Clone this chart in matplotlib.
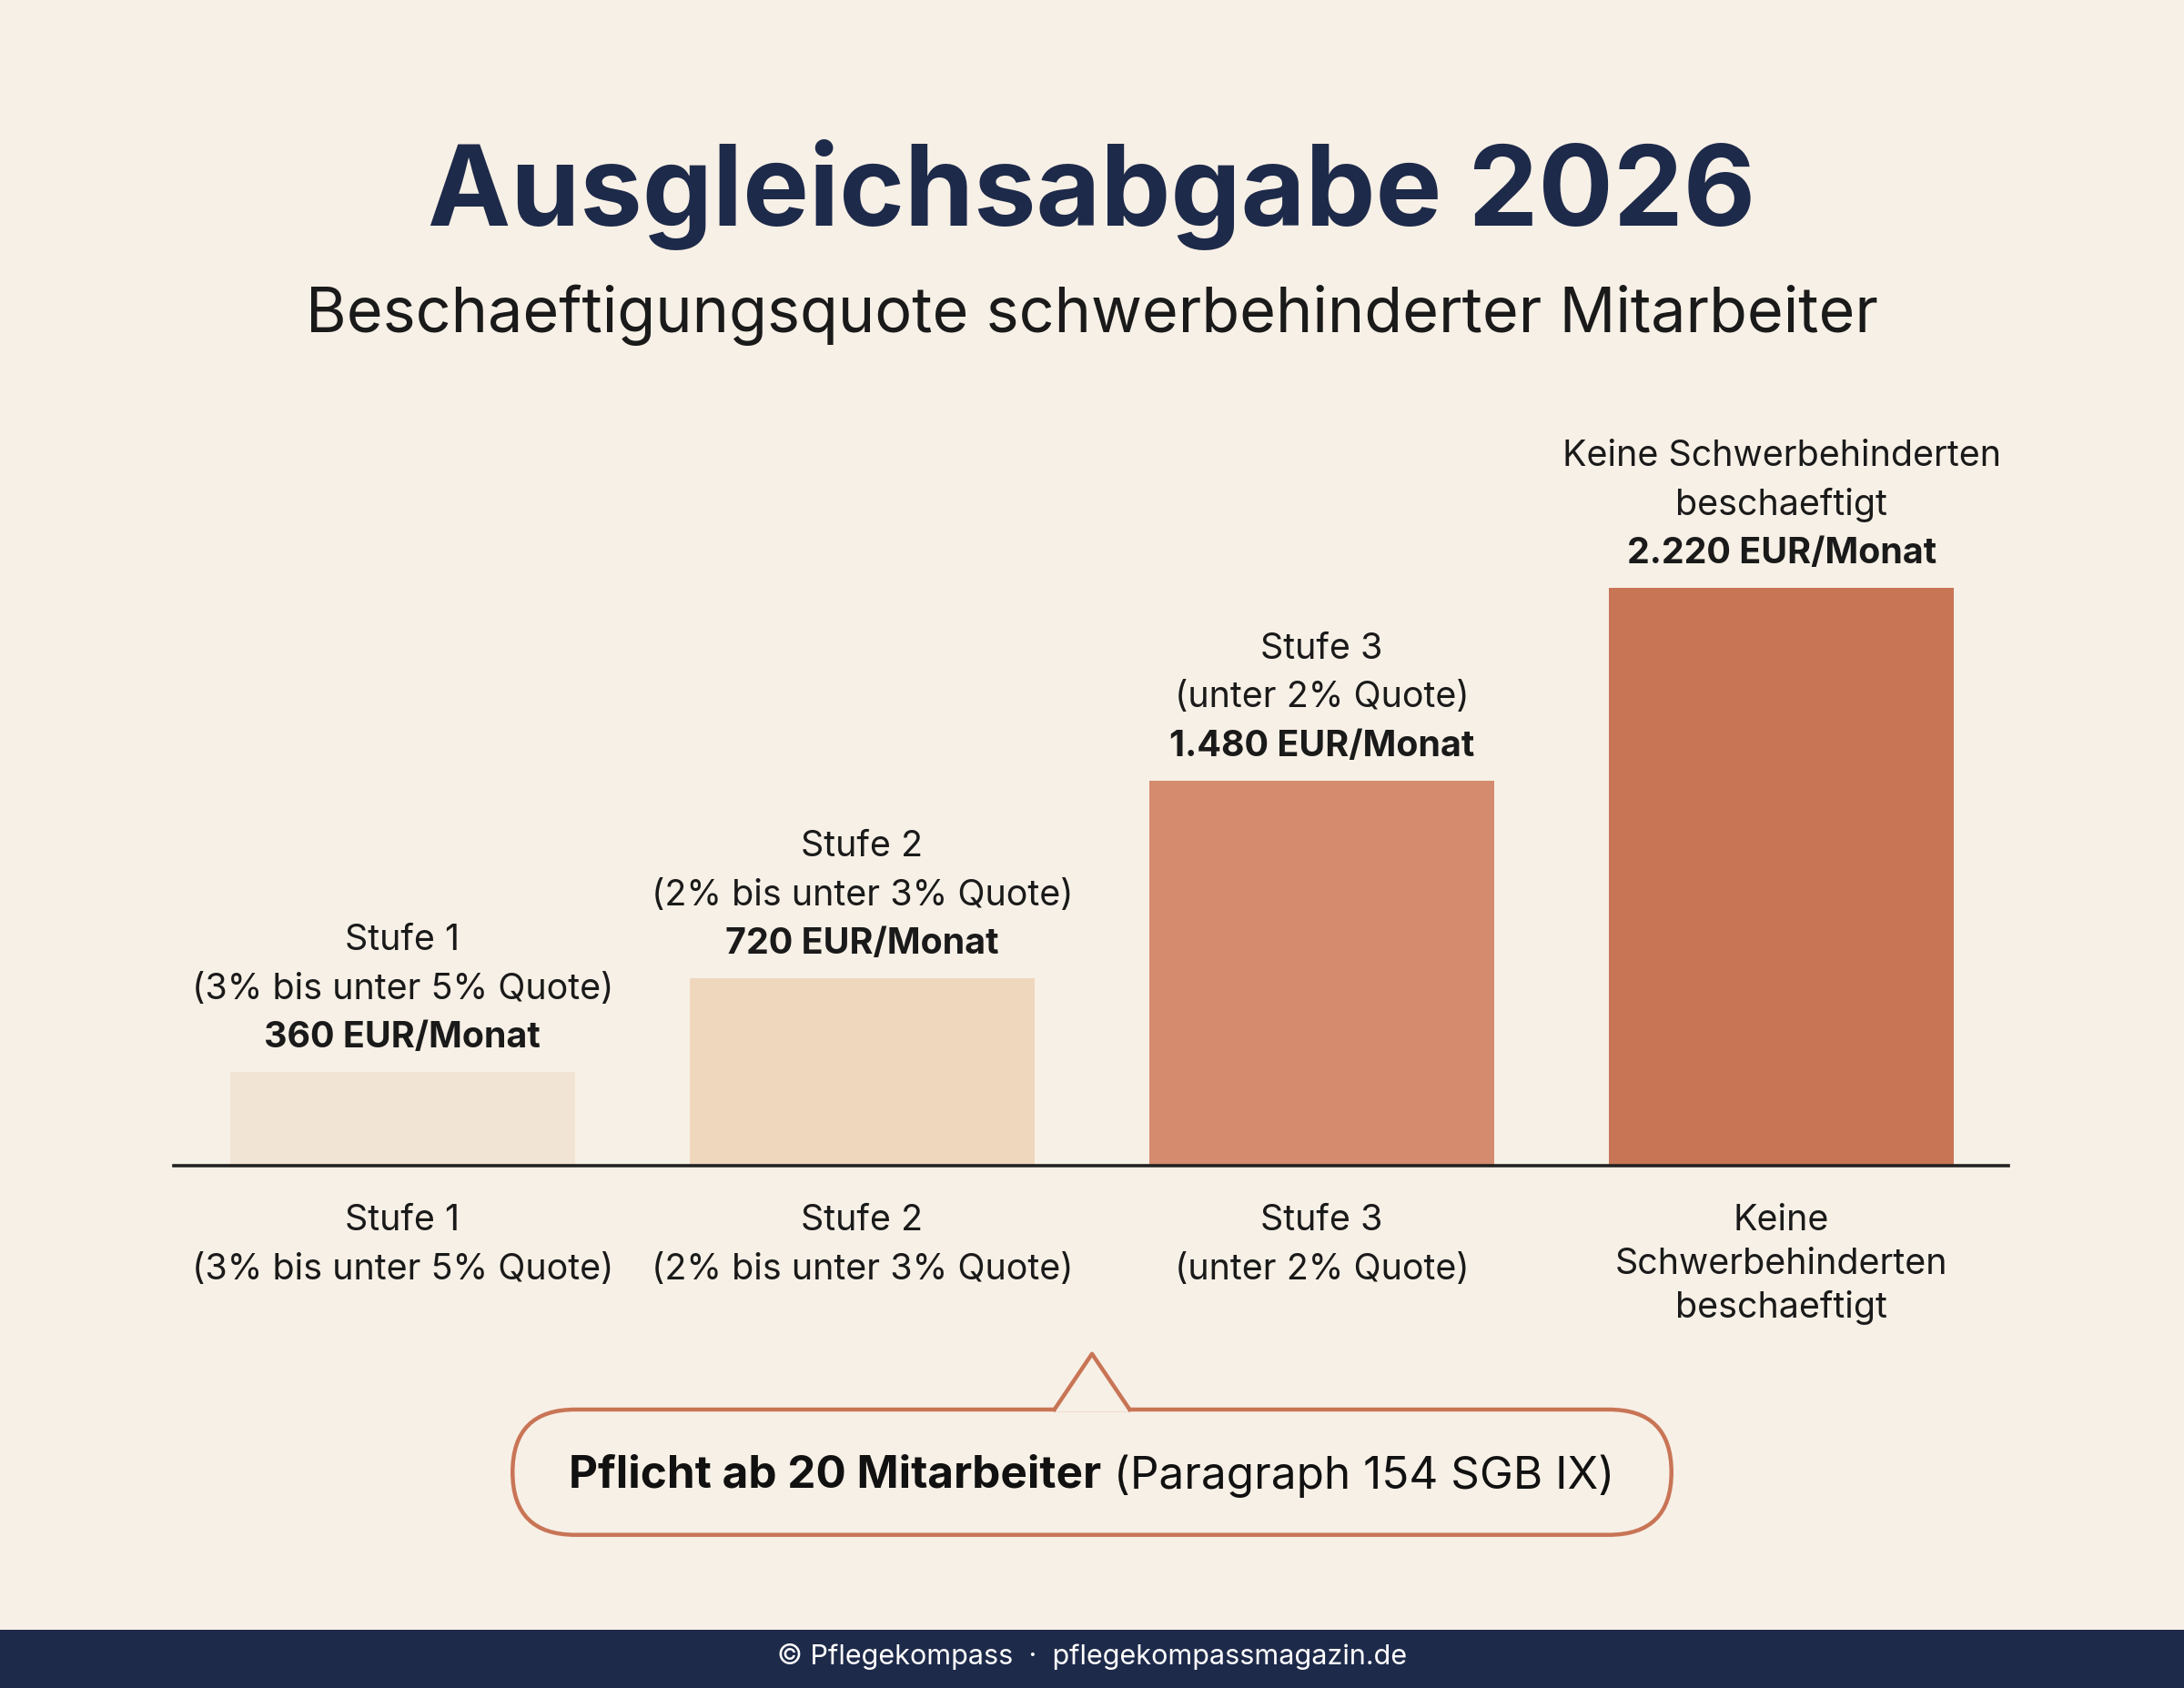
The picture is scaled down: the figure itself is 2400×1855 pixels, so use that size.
import matplotlib
matplotlib.use("Agg")
import matplotlib.pyplot as plt
from matplotlib.patches import FancyBboxPatch, Polygon, Rectangle

plt.rcParams['font.family'] = ['Inter', 'DejaVu Sans']

categories = ["Stufe 1\n(3% bis unter 5% Quote)", "Stufe 2\n(2% bis unter 3% Quote)",
              "Stufe 3\n(unter 2% Quote)", "Keine\nSchwerbehinderten\nbeschaeftigt"]
top_labels = ["Stufe 1\n(3% bis unter 5% Quote)", "Stufe 2\n(2% bis unter 3% Quote)",
              "Stufe 3\n(unter 2% Quote)", "Keine Schwerbehinderten\nbeschaeftigt"]
values = [360, 720, 1480, 2220]
value_labels = ["360 EUR/Monat", "720 EUR/Monat", "1.480 EUR/Monat", "2.220 EUR/Monat"]
colors = ["#F2E4D4", "#EFD7BE", "#D48B6E", "#C87556"]

bg = "#F7F0E6"
navy = "#1E2A4A"
W, H = 1568, 1213
PT = 0.551  # points per reference pixel

fig = plt.figure(figsize=(12, 9.28), dpi=200, facecolor=bg)

# overlay in reference pixel coords
ov = fig.add_axes([0, 0, 1, 1], zorder=0)
ov.set_xlim(0, W)
ov.set_ylim(H, 0)
ov.axis('off')
ov.set_facecolor(bg)

ov.text(W / 2, 140, "Ausgleichsabgabe 2026", ha='center', va='center',
        fontsize=44, fontweight='bold', color=navy)
ov.text(W / 2, 226, "Beschaeftigungsquote schwerbehinderter Mitarbeiter",
        ha='center', va='center', fontsize=24.6, color="#1a1a1a")

# bars
ax = fig.add_axes([125 / W, 1 - 838 / H, (1442 - 125) / W, (838 - 300) / H], zorder=1)
ax.patch.set_alpha(0)
x = list(range(len(values)))
ax.bar(x, values, width=0.75, color=colors, zorder=2)
ax.set_xlim(-0.497, 3.494)
ax.set_ylim(0, 2877)
for s in ['top', 'right', 'left']:
    ax.spines[s].set_visible(False)
ax.spines['bottom'].set_color('#222222')
ax.spines['bottom'].set_linewidth(1.3)
ax.set_yticks([])
ax.set_xticks([])

for xi, v, tl, vl in zip(x, values, top_labels, value_labels):
    ax.annotate(vl, (xi, v), xytext=(0, 25 * PT), textcoords='offset points',
                ha='center', va='center', fontsize=14.2, fontweight='bold', color='#1a1a1a')
    for k, line in enumerate(reversed(tl.split("\n"))):
        ax.annotate(line, (xi, v), xytext=(0, (60 + 35 * k) * PT), textcoords='offset points',
                    ha='center', va='center', fontsize=14.2, color='#1a1a1a')

for xi, c in zip(x, categories):
    lines = c.split("\n")
    step = 31 if len(lines) == 3 else 35
    for k, line in enumerate(lines):
        ax.annotate(line, (xi, 0), xycoords=('data', 'axes fraction'),
                    xytext=(0, -(39 + step * k) * PT), textcoords='offset points',
                    ha='center', va='center', fontsize=14.2, color='#1a1a1a')

# callout
box = FancyBboxPatch((368, 1013), 1200 - 368, 90, boxstyle="round,pad=0,rounding_size=45",
                     facecolor=bg, edgecolor="#C87556", linewidth=1.6)
ov.add_patch(box)
ov.add_patch(Polygon([[757, 1014.5], [784, 973], [811, 1014.5]], closed=True,
                     facecolor=bg, edgecolor='none', zorder=3))
ov.plot([757, 784, 811], [1013, 973, 1013], color="#C87556", lw=1.6, zorder=4)

fig.canvas.draw()
r = fig.canvas.get_renderer()
t1 = ov.text(0, 1060, "Pflicht ab 20 Mitarbeiter", ha='left', va='center',
             fontsize=17.8, fontweight='bold', color='#111111')
t2 = ov.text(0, 1060, " (Paragraph 154 SGB IX)", ha='left', va='center',
             fontsize=17.8, color='#111111')
inv = ov.transData.inverted()
def wpx(t):
    bb = t.get_window_extent(r)
    return inv.transform((bb.x1, 0))[0] - inv.transform((bb.x0, 0))[0]
w1, w2 = wpx(t1), wpx(t2)
x0 = 784 - (w1 + w2) / 2
t1.set_x(x0)
t2.set_x(x0 + w1)

# footer
ov.add_patch(Rectangle((0, 1171), W, H - 1171, facecolor=navy, edgecolor='none'))
ov.text(W / 2, 1190, "© Pflegekompass  ·  pflegekompassmagazin.de", ha='center',
        va='center', fontsize=11, color='white')

fig.savefig("out.png", dpi=200, facecolor=bg)
